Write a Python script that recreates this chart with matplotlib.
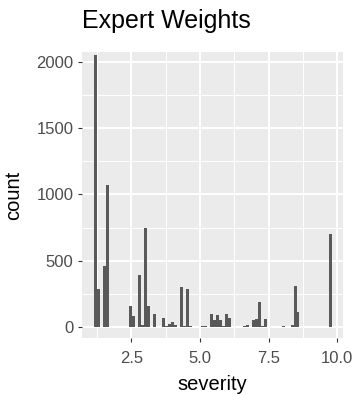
import matplotlib
matplotlib.use("Agg")
import matplotlib.pyplot as plt
import numpy as np
from matplotlib.ticker import MultipleLocator

plt.rcParams['font.family'] = ['Liberation Sans', 'DejaVu Sans']

# histogram data: bin centres (severity) with their counts, 80 bins
severity = [1.178, 1.287, 1.504, 1.613, 2.483, 2.591, 2.809, 2.918, 3.026, 3.135,
            3.352, 3.678, 3.787, 3.896, 4.005, 4.113, 4.331, 4.439, 4.548, 4.657,
            5.091, 5.200, 5.418, 5.527, 5.635, 5.744, 5.853, 5.961, 6.070, 6.613,
            6.722, 6.939, 7.048, 7.157, 7.266, 7.374, 8.027, 8.353, 8.461, 8.570,
            9.766]
counts = [2050, 290, 460, 1070, 155, 80, 390, 15, 750, 155,
          95, 70, 8, 25, 38, 15, 305, 8, 285, 5,
          8, 8, 95, 55, 90, 50, 8, 100, 65, 8,
          18, 55, 62, 190, 10, 60, 10, 15, 310, 113,
          705]
sev_min, sev_max, n_bins = 1.124, 9.82, 80

xticks = [2.5, 5.0, 7.5, 10.0]
xtick_labels = ["2.5", "5.0", "7.5", "10.0"]
yticks = [0, 500, 1000, 1500, 2000]
ytick_labels = ["0", "500", "1000", "1500", "2000"]

fig = plt.figure(figsize=(3.55, 3.95), dpi=100)
ax = fig.add_axes([81.7 / 355, 1 - 338.3 / 395, 261.6 / 355, 286.3 / 395])
ax.set_facecolor('#EBEBEB')

edges = np.linspace(sev_min, sev_max, n_bins + 1)
ax.hist(severity, bins=edges, weights=counts, color='#595959', zorder=3)

ax.set_xlim(0.69, 10.22)
ax.set_ylim(-85, 2075)
ax.set_xticks(xticks, xtick_labels)
ax.set_yticks(yticks, ytick_labels)
ax.xaxis.set_minor_locator(MultipleLocator(1.25))
ax.yaxis.set_minor_locator(MultipleLocator(250))

ax.grid(which='major', color='white', linewidth=1.4)
ax.grid(which='minor', color='white', linewidth=0.7)
ax.set_axisbelow(True)
for s in ax.spines.values():
    s.set_visible(False)

ax.tick_params(which='major', length=2.9, width=0.8, color='#333333',
               labelcolor='#4D4D4D', labelsize=12)
ax.tick_params(axis='x', pad=6)
ax.tick_params(axis='y', pad=3)
ax.tick_params(which='minor', length=0)

fig.text(82 / 355, 1 - 28.3 / 395, "Expert Weights", fontsize=18,
         ha='left', va='baseline', color='black')
fig.text(212.5 / 355, 1 - 390 / 395, "severity", fontsize=14.5,
         ha='center', va='baseline', color='black')
fig.text(14 / 355, 1 - 195 / 395, "count", fontsize=14.5, rotation=90,
         ha='center', va='center', color='black')

fig.savefig("out.png", dpi=100)
